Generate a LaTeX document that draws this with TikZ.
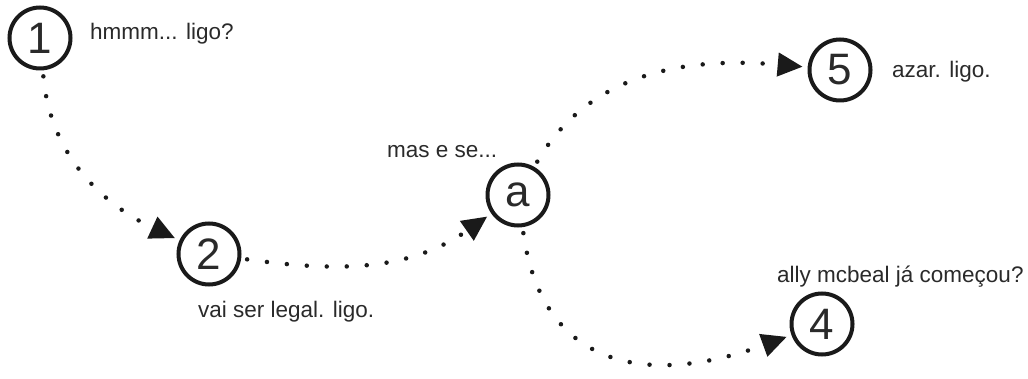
\documentclass[tikz,border=0pt]{standalone}
\usepackage{fontspec}
\setmainfont{Liberation Sans}
\usetikzlibrary{arrows.meta}
\definecolor{ink}{HTML}{1A1A1A}
\definecolor{txt}{HTML}{2A2A2A}
\tikzset{
  stepcircle/.style={circle,draw=ink,line width=4pt,minimum size=61pt,inner sep=0pt,
    font=\fontsize{44}{44}\selectfont,text=txt},
  lbl/.style={anchor=base west,inner sep=0pt,font=\fontsize{22.5}{26}\selectfont,text=txt},
  conn/.style={draw=ink,line width=4.5pt,line cap=round,dash pattern=on 0pt off 20pt,
    -{Triangle[length=25pt,width=23pt]},shorten >=5pt,shorten <=6pt}
}
\begin{document}
\begin{tikzpicture}[x=1pt,y=-1pt]
\useasboundingbox (0,0) rectangle (1028,379);
\node[stepcircle] (c1) at (40,38) {1};
\node[stepcircle] (c2) at (209,254) {2};
\node[stepcircle] (ca) at (518,195) {a};
\node[stepcircle] (c5) at (840,70) {5};
\node[stepcircle] (c4) at (822,324) {4};

\node[lbl] (t1) at (90,40) {hmmm... ligo?};
\node[lbl] (t2) at (198,318) {vai ser legal. ligo.};
\node[lbl] (ta) at (387,158) {mas e se...};
\node[lbl] (t5) at (892,78) {azar. ligo.};
\node[lbl] (t4) at (777,283) {ally mcbeal já começou?};

\draw[conn] (c1) to[out=-85,in=155] (c2);
\draw[conn] (c2) to[out=-8,in=-145] (ca);
\draw[conn] (ca) to[out=60,in=175] (c5);
\draw[conn] (ca) to[out=-82,in=-160,looseness=1.3] (c4);
\end{tikzpicture}
\end{document}
